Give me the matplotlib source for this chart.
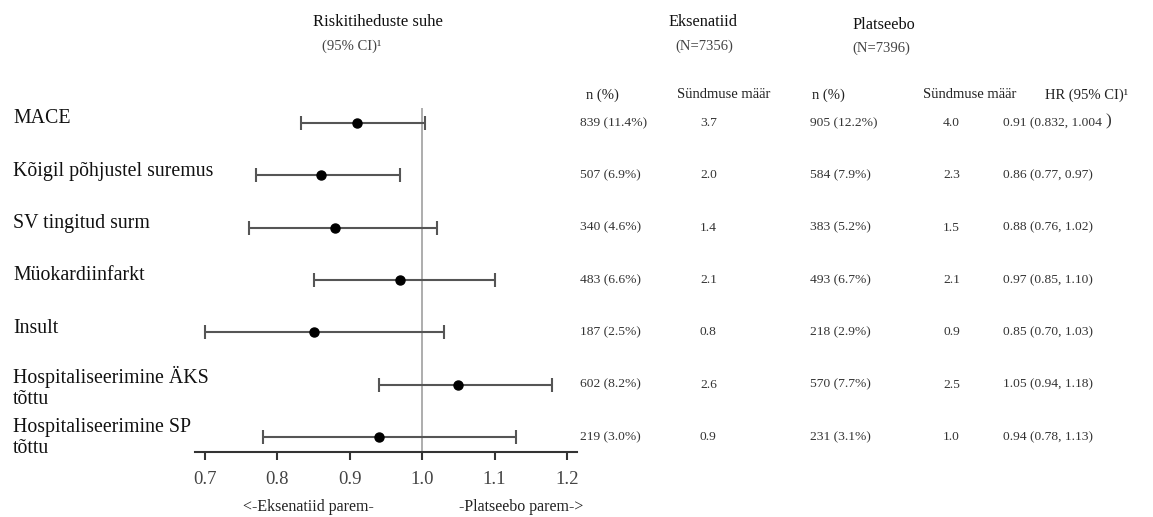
import matplotlib
matplotlib.use('Agg')
import matplotlib.pyplot as plt
from matplotlib.transforms import blended_transform_factory

plt.rcParams['font.family'] = ['Liberation Serif', 'DejaVu Serif']

# data
outcomes = ['MACE', 'Kõigil põhjustel suremus', 'SV tingitud surm', 'Müokardiinfarkt',
            'Insult', 'Hospitaliseerimine ÄKS\ntõttu', 'Hospitaliseerimine SP\ntõttu']
hr = [0.91, 0.86, 0.88, 0.97, 0.85, 1.05, 0.94]
ci_low = [0.832, 0.77, 0.76, 0.85, 0.70, 0.94, 0.78]
ci_high = [1.004, 0.97, 1.02, 1.10, 1.03, 1.18, 1.13]
exe_n = ['839 (11.4%)', '507 (6.9%)', '340 (4.6%)', '483 (6.6%)', '187 (2.5%)', '602 (8.2%)', '219 (3.0%)']
exe_rate = ['3.7', '2.0', '1.4', '2.1', '0.8', '2.6', '0.9']
pla_n = ['905 (12.2%)', '584 (7.9%)', '383 (5.2%)', '493 (6.7%)', '218 (2.9%)', '570 (7.7%)', '231 (3.1%)']
pla_rate = ['4.0', '2.3', '1.5', '2.1', '0.9', '2.5', '1.0']
hr_text = ['0.91 (0.832, 1.004', '0.86 (0.77, 0.97)', '0.88 (0.76, 1.02)', '0.97 (0.85, 1.10)',
           '0.85 (0.70, 1.03)', '1.05 (0.94, 1.18)', '0.94 (0.78, 1.13)']
xticks = [0.7, 0.8, 0.9, 1.0, 1.1, 1.2]

W, H = 1153, 517
fig = plt.figure(figsize=(W / 100, H / 100), dpi=100)
fx = lambda px: px / W
fy = lambda py: 1 - py / H

ax = fig.add_axes([fx(195), fy(452), fx(382), (452 - 108) / H])
rows = list(range(len(outcomes)))
ax.errorbar(hr, rows, xerr=[[h - l for h, l in zip(hr, ci_low)], [u - h for h, u in zip(hr, ci_high)]],
            fmt='o', color='black', ms=6.5, ecolor='#555555', elinewidth=1.5, capsize=5, capthick=1.5)
ax.axvline(1.0, color='#a0a0a0', lw=1.2, zorder=0)
ax.set_xlim(0.686, 1.214)
ax.set_ylim(6.287, -0.287)
for s in ['top', 'right', 'left']:
    ax.spines[s].set_visible(False)
ax.spines['bottom'].set_color('#333333')
ax.spines['bottom'].set_linewidth(1.5)
ax.set_yticks([])
ax.set_xticks(xticks)
ax.set_xticklabels(['%.1f' % t for t in xticks])
ax.tick_params(axis='x', direction='out', length=6, width=1.5, color='#333333',
               labelsize=13.5, labelcolor='#444444', pad=8)

tr = blended_transform_factory(fig.transFigure, ax.transData)

for i, lab in enumerate(outcomes):
    if '\n' in lab:
        ax.text(fx(13), i - 0.36, lab, transform=tr, fontsize=14.3, va='top', ha='left',
                linespacing=1.15, color='#111111')
    else:
        ax.text(fx(13), i - 0.08, lab, transform=tr, fontsize=14.3, va='center', ha='left',
                color='#111111')

cols = [(580, exe_n), (700, exe_rate), (810, pla_n), (943, pla_rate), (1003, hr_text)]
for x, vals in cols:
    for i, v in enumerate(vals):
        ax.text(fx(x), i, v, transform=tr, fontsize=9.7, va='center', ha='left', color='#333333')
# the closing bracket of the first HR value is set larger in the source
ax.text(fx(1105), -0.04, ')', transform=tr, fontsize=12.5, va='center', ha='left', color='#333333')

heads = [(586, 'n (%)'), (677, 'Sündmuse määr'), (812, 'n (%)'), (923, 'Sündmuse määr'), (1045, 'HR (95% CI)¹')]
for x, t in heads:
    fig.text(fx(x), fy(95), t, fontsize=10.5, va='center', ha='left', color='#222222')

fig.text(fx(313), fy(22), 'Riskitiheduste suhe', fontsize=12, va='center', ha='left', color='#111111')
fig.text(fx(322), fy(46), '(95% CI)¹', fontsize=10.5, va='center', ha='left', color='#444444')
fig.text(fx(668), fy(22), 'Eksenatiid', fontsize=11.7, va='center', ha='left', color='#111111')
fig.text(fx(675), fy(46), '(N=7356)', fontsize=10.5, va='center', ha='left', color='#444444')
fig.text(fx(852), fy(25), 'Platseebo', fontsize=11.7, va='center', ha='left', color='#111111')
fig.text(fx(852), fy(48), '(N=7396)', fontsize=10.5, va='center', ha='left', color='#444444')

fig.text(fx(308), fy(507), '<-Eksenatiid parem-', fontsize=11.5, va='center', ha='center', color='#222222')
fig.text(fx(521), fy(507), '-Platseebo parem->', fontsize=11.5, va='center', ha='center', color='#222222')

fig.savefig('out.png', dpi=100)
